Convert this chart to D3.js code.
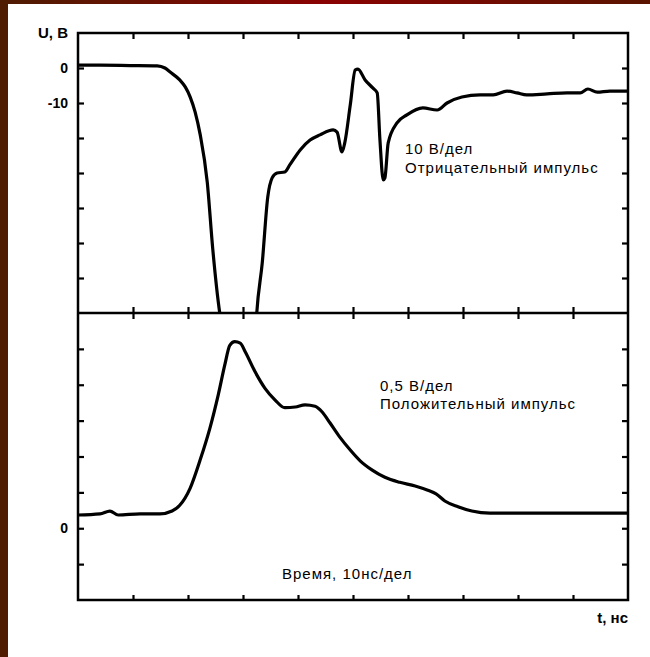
<!DOCTYPE html>
<meta charset="utf-8">
<style>
body { margin: 0; background: #fff; font-family: Arial, "Liberation Sans", sans-serif; }
.curve { fill: none; stroke: #000; stroke-width: 3.2px; stroke-linejoin: round; }
.axis path { display: none; }
.axis line { stroke: #000; stroke-width: 2.2px; }
.axis text { font-family: Arial, "Liberation Sans", sans-serif; font-size: 14px; font-weight: bold; fill: #000; }
.note { font-size: 15px; letter-spacing: 1px; fill: #000; }
</style>
<body>
<script src="https://cdn.jsdelivr.net/npm/d3@7"></script>
<script>
// time in ns (10 ns per division)
var xTicks = [10, 20, 30, 40, 50, 60, 70, 80, 90];

// negative pulse, volts (10 V/div)
var negT = [0, 4, 9.5, 14.4, 15.8, 16.7, 18.5, 19.5, 20.4, 21.3, 22.2, 23.5, 24.5, 25.8, 26.7, 29.5, 32.2, 32.5,
            33.5, 34.5, 35.3, 36.2, 37.6, 38.5, 40.4, 42.2, 44, 46.4, 47.1, 48, 48.5, 49.5, 50.4, 50.9, 52.2,
            53.6, 54.4, 54.9, 55.5, 55.8, 56.4, 58, 59.8, 62.7, 65.3, 67.1, 69.8, 73.1, 75.5, 78, 79.8, 81.6,
            85.3, 88.9, 91.3, 92.7, 94.4, 96.7, 100];
var negV = [0.8, 0.8, 0.7, 0.6, 0, -1.1, -3.4, -5.4, -8.3, -12.6, -18.9, -32.6, -51.7, -70.3, -77.7, -83, -77.7, -70,
            -55.7, -36.9, -31.4, -30, -29.7, -27.7, -23.4, -20.6, -19.1, -17.7, -18.3, -24, -21.4, -10.6, -0.6, -0.3, -3.4,
            -5.7, -7.1, -20.6, -32, -31.4, -21.4, -15.7, -13.4, -11.4, -12, -10, -8.3, -7.7, -7.7, -6.6, -7.1, -7.7,
            -7.4, -7.1, -7.1, -6, -6.9, -6.6, -6.6];

// positive pulse, volts (0.5 V/div)
var posT = [0, 4, 5.8, 7.3, 11.3, 14.9, 17.1, 18.5, 20.4, 22.2, 24, 25.5, 26.7, 27.6, 28.5, 29.5, 30.4, 32.2,
            34, 35.8, 37.6, 39.5, 41.3, 43.1, 44.4, 45.8, 47.6, 49.5, 51.3, 53.5, 55.8, 58.5, 61.3, 63.6, 65.1,
            66.7, 69.1, 71.6, 74.9, 80.4, 87.6, 94.9, 100];
var posV = [0.185, 0.2, 0.24, 0.185, 0.2, 0.2, 0.24, 0.32, 0.56, 0.95, 1.4, 1.86, 2.28, 2.55, 2.6, 2.58, 2.46, 2.18,
            1.95, 1.79, 1.68, 1.69, 1.72, 1.7, 1.62, 1.47, 1.27, 1.09, 0.94, 0.81, 0.71, 0.64, 0.59, 0.53, 0.48,
            0.38, 0.3, 0.24, 0.21, 0.21, 0.21, 0.21, 0.21];

var topTicks = [0, -10, -20, -30, -40, -50, -60];
var botTicks = [-0.5, 0, 0.5, 1, 1.5, 2, 2.5];

var W = 650, H = 657;
// plot box (pTop/pMid/pBot: upper edge, divider, lower edge)
var pLeft = 78, pRight = 628, pTop = 33, pMid = 313, pBot = 600;

var svg = d3.select("body").append("svg").attr("width", W).attr("height", H);

// frame strips
var defs = svg.append("defs");
var grad = defs.append("linearGradient").attr("id", "topgrad");
grad.append("stop").attr("offset", "0%").attr("stop-color", "#4e1c02");
grad.append("stop").attr("offset", "50%").attr("stop-color", "#8a0202");
grad.append("stop").attr("offset", "100%").attr("stop-color", "#5a1400");
svg.append("rect").attr("x", 0).attr("y", 0).attr("width", W).attr("height", 4).attr("fill", "url(#topgrad)");
svg.append("rect").attr("x", 0).attr("y", 0).attr("width", 8).attr("height", H).attr("fill", "#4f1c01");

var x = d3.scaleLinear().domain([0, 100]).range([pLeft, pRight]);
var yTop = d3.scaleLinear().domain([-70, 10]).range([pMid, pTop]);
var yBot = d3.scaleLinear().domain([-1, 3]).range([pBot, pMid]);

defs.append("clipPath").attr("id", "clipTop").append("rect")
    .attr("x", pLeft).attr("y", pTop).attr("width", pRight - pLeft).attr("height", pMid - pTop);

// axes
svg.append("g").attr("class", "axis").attr("transform", "translate(" + pLeft + ",0)")
    .call(d3.axisLeft(yTop).tickValues(topTicks).tickSize(-6).tickPadding(10)
      .tickFormat(function(d) { return d === 0 || d === -10 ? d : ""; }));
svg.append("g").attr("class", "axis").attr("transform", "translate(" + pLeft + ",0)")
    .call(d3.axisLeft(yBot).tickValues(botTicks).tickSize(-6).tickPadding(10)
      .tickFormat(function(d) { return d === 0 ? "0" : ""; }));
svg.append("g").attr("class", "axis").attr("transform", "translate(" + pRight + ",0)")
    .call(d3.axisRight(yTop).tickValues(topTicks).tickSize(-6).tickFormat(""));
svg.append("g").attr("class", "axis").attr("transform", "translate(" + pRight + ",0)")
    .call(d3.axisRight(yBot).tickValues(botTicks).tickSize(-6).tickFormat(""));
svg.append("g").attr("class", "axis").attr("transform", "translate(0," + pTop + ")")
    .call(d3.axisTop(x).tickValues(xTicks).tickSize(-6).tickFormat(""));
svg.append("g").attr("class", "axis").attr("transform", "translate(0," + (pMid - 6) + ")")
    .call(d3.axisBottom(x).tickValues(xTicks).tickSize(12).tickFormat(""));
svg.append("g").attr("class", "axis").attr("transform", "translate(0," + pBot + ")")
    .call(d3.axisBottom(x).tickValues(xTicks).tickSize(-5).tickFormat(""));

// frame lines
svg.append("rect").attr("x", pLeft).attr("y", pTop).attr("width", pRight - pLeft).attr("height", pBot - pTop)
    .attr("fill", "none").attr("stroke", "#000").attr("stroke-width", 2.5);
svg.append("line").attr("x1", pLeft).attr("x2", pRight).attr("y1", pMid).attr("y2", pMid)
    .attr("stroke", "#000").attr("stroke-width", 2.5);

// curves
var lineTop = d3.line().curve(d3.curveMonotoneX)
    .x(function(d, i) { return x(negT[i]); }).y(function(d) { return yTop(d); });
svg.append("path").datum(negV).attr("class", "curve").attr("clip-path", "url(#clipTop)").attr("d", lineTop);

var lineBot = d3.line().curve(d3.curveMonotoneX)
    .x(function(d, i) { return x(posT[i]); }).y(function(d) { return yBot(d); });
svg.append("path").datum(posV).attr("class", "curve").attr("d", lineBot);

// labels
function label(tx, ty, s, cls, anchor) {
  svg.append("text").attr("x", tx).attr("y", ty).attr("class", cls)
     .attr("text-anchor", anchor || "start").text(s);
}
svg.append("text").attr("x", 68).attr("y", 38).attr("text-anchor", "end")
   .style("font-size", "15px").style("font-weight", "bold").text("U, B");
label(405, 154, "10 В/дел", "note");
label(405, 173, "Отрицательный импульс", "note");
label(380, 391, "0,5 В/дел", "note");
label(380, 409, "Положительный импульс", "note");
label(282, 579, "Время, 10нс/дел", "note");
svg.append("text").attr("x", 628).attr("y", 623).attr("text-anchor", "end")
   .style("font-size", "15px").style("font-weight", "bold").text("t, нс");
</script>
</body>
